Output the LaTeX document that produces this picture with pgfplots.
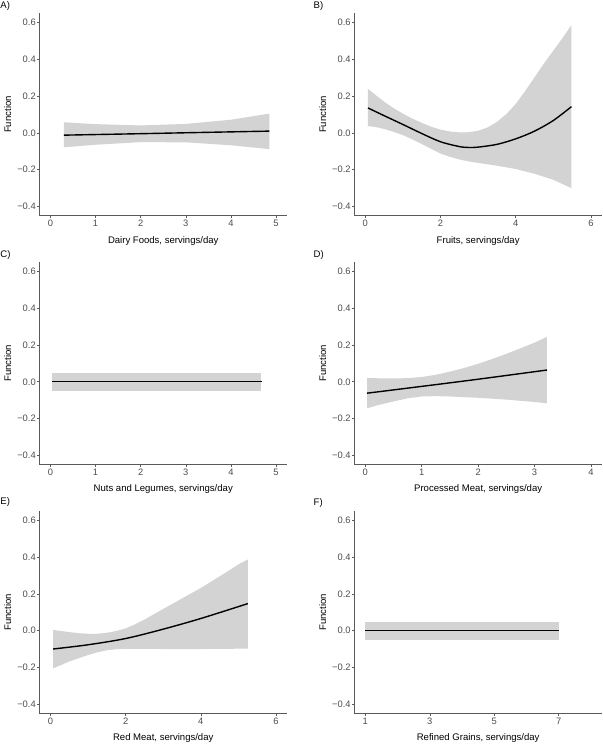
\documentclass[border=0pt]{standalone}
\usepackage{fontspec}
\setmainfont{Liberation Sans}
\usepackage{pgfplots}
\pgfplotsset{compat=1.18}
\definecolor{bandgray}{RGB}{211,211,211}
\definecolor{axgray}{RGB}{90,90,90}
\definecolor{tickgray}{RGB}{77,77,77}
\pgfplotsset{
  panel/.style={
    scale only axis, width=249.4pt, height=203.2pt,
    anchor=south west,
    ymin=-0.45, ymax=0.65,
    axis x line*=bottom, axis y line*=left,
    axis line style={-, color=axgray, line width=0.8pt},
    tick align=outside, major tick length=2.2pt,
    tick style={axgray, line width=0.6pt},
    ytick={-0.4,-0.2,0,0.2,0.4,0.6},
    yticklabels={−0.4,−0.2,0.0,0.2,0.4,0.6},
    ticklabel style={font=\fontsize{9.4}{10}\selectfont, text=tickgray},
    yticklabel style={inner sep=1pt},
    xticklabel style={inner sep=2pt},
    label style={font=\fontsize{9.6}{11}\selectfont},
    ylabel={Function},
    ylabel style={at={(axis description cs:-0.1263,0.5)}, anchor=center},
    xlabel style={at={(axis description cs:0.5,-0.123)}, anchor=center},
  },
  fit/.style={black, line width=1.4pt, smooth},
  bnd/.style={fill=bandgray, draw=none},
}
\begin{document}
\begin{tikzpicture}
\begin{scope}[every node/.style={font=\fontsize{9.6}{11}\selectfont, anchor=west, inner sep=0pt}]
\node at (0.3pt,-6pt) {A)};
\node at (315pt,-6pt) {B)};
\node at (0.3pt,-256pt) {C)};
\node at (315pt,-256.5pt) {D)};
\node at (0.3pt,-504pt) {E)};
\node at (315pt,-505pt) {F)};
\end{scope}

% A) Dairy Foods
\begin{axis}[panel, at={(39.3pt,-216.7pt)}, xmin=-0.25, xmax=5.25,
  xtick={0,1,2,3,4,5}, xticklabels={0,1,2,3,4,5},
  xlabel={Dairy Foods, servings/day}]
\addplot[bnd] coordinates {(0.3,0.058) (1,0.048) (2,0.041) (3,0.049) (4,0.072) (4.85,0.105)
  (4.85,-0.088) (4,-0.067) (3,-0.051) (2,-0.050) (1,-0.064) (0.3,-0.078)} -- cycle;
\addplot[fit] coordinates {(0.3,-0.012) (2,-0.004) (3,0.001) (4.85,0.010)};
\end{axis}

% B) Fruits
\begin{axis}[panel, at={(355.7pt,-216.7pt)}, xmin=-0.3, xmax=6.3,
  xtick={0,2,4,6}, xticklabels={0,2,4,6},
  xlabel={Fruits, servings/day}]
\addplot[bnd] coordinates {(0.07,0.24) (0.25,0.21) (0.5,0.17) (0.75,0.135) (1.0,0.105) (1.25,0.078) (1.5,0.055) (1.75,0.034) (2.0,0.018) (2.25,0.008) (2.5,0.003) (2.75,0.004) (3.0,0.012) (3.25,0.030) (3.5,0.060) (3.75,0.103) (4.0,0.158) (4.25,0.228) (4.5,0.303) (4.75,0.378) (5.0,0.448) (5.25,0.518) (5.48,0.587)
  (5.48,-0.30) (5.0,-0.255) (4.5,-0.222) (4.0,-0.196) (3.5,-0.178) (3.0,-0.163) (2.75,-0.155) (2.5,-0.144) (2.25,-0.13) (2.0,-0.112) (1.75,-0.087) (1.5,-0.06) (1.25,-0.035) (1.0,-0.012) (0.75,0.006) (0.5,0.022) (0.25,0.033) (0.07,0.037)} -- cycle;
\addplot[fit] coordinates {(0.07,0.136) (0.5,0.094) (1.0,0.046) (1.5,-0.003) (2.0,-0.048) (2.5,-0.074) (2.75,-0.079) (3.0,-0.077) (3.5,-0.062) (4.0,-0.032) (4.5,0.01) (5.0,0.068) (5.48,0.143)};
\end{axis}

% C) Nuts and Legumes
\begin{axis}[panel, at={(39.3pt,-466.7pt)}, xmin=-0.25, xmax=5.25,
  xtick={0,1,2,3,4,5}, xticklabels={0,1,2,3,4,5},
  xlabel={Nuts and Legumes, servings/day}]
\addplot[bnd] coordinates {(0.045,0.048) (4.67,0.048) (4.67,-0.049) (0.045,-0.049)} -- cycle;
\addplot[fit] coordinates {(0.045,0) (4.67,0)};
\end{axis}

% D) Processed Meat
\begin{axis}[panel, at={(355.7pt,-466.7pt)}, xmin=-0.2, xmax=4.2,
  xtick={0,1,2,3,4}, xticklabels={0,1,2,3,4},
  xlabel={Processed Meat, servings/day}]
\addplot[bnd] coordinates {(0.03,0.02) (0.5,0.018) (0.75,0.02) (1.0,0.026) (1.25,0.038) (1.5,0.055) (1.75,0.075) (2.0,0.098) (2.25,0.124) (2.5,0.152) (2.75,0.182) (3.0,0.213) (3.22,0.244)
  (3.22,-0.117) (3.0,-0.11) (2.5,-0.097) (2.0,-0.087) (1.5,-0.08) (1.25,-0.078) (1.0,-0.08) (0.75,-0.09) (0.5,-0.107) (0.25,-0.125) (0.03,-0.144)} -- cycle;
\addplot[fit] coordinates {(0.03,-0.062) (1.0,-0.025) (2.0,0.014) (3.22,0.064)};
\end{axis}

% E) Red Meat
\begin{axis}[panel, at={(39.3pt,-716.7pt)}, xmin=-0.3, xmax=6.3,
  xtick={0,2,4,6}, xticklabels={0,2,4,6},
  xlabel={Red Meat, servings/day}]
\addplot[bnd] coordinates {(0.07,0.004) (0.5,-0.008) (0.75,-0.014) (1.0,-0.017) (1.25,-0.017) (1.5,-0.012) (1.75,-0.002) (2.0,0.012) (2.25,0.034) (2.5,0.06) (2.75,0.089) (3.0,0.118) (3.5,0.175) (4.0,0.232) (4.5,0.295) (5.0,0.36) (5.25,0.387)
  (5.25,-0.098) (4.0,-0.10) (3.0,-0.10) (2.0,-0.099) (1.75,-0.101) (1.5,-0.107) (1.25,-0.118) (1.0,-0.133) (0.75,-0.15) (0.5,-0.168) (0.25,-0.19) (0.07,-0.205)} -- cycle;
\addplot[fit] coordinates {(0.07,-0.10) (1.0,-0.077) (2.0,-0.043) (3.0,0.008) (4.0,0.066) (5.25,0.147)};
\end{axis}

% F) Refined Grains
\begin{axis}[panel, at={(355.7pt,-716.7pt)}, xmin=0.65, xmax=8.35,
  xtick={1,3,5,7}, xticklabels={1,3,5,7},
  xlabel={Refined Grains, servings/day}]
\addplot[bnd] coordinates {(1,0.049) (7,0.049) (7,-0.050) (1,-0.050)} -- cycle;
\addplot[fit] coordinates {(1,0) (7,0)};
\end{axis}
\path (0,0) rectangle (606pt,-746pt);
\end{tikzpicture}
\end{document}
